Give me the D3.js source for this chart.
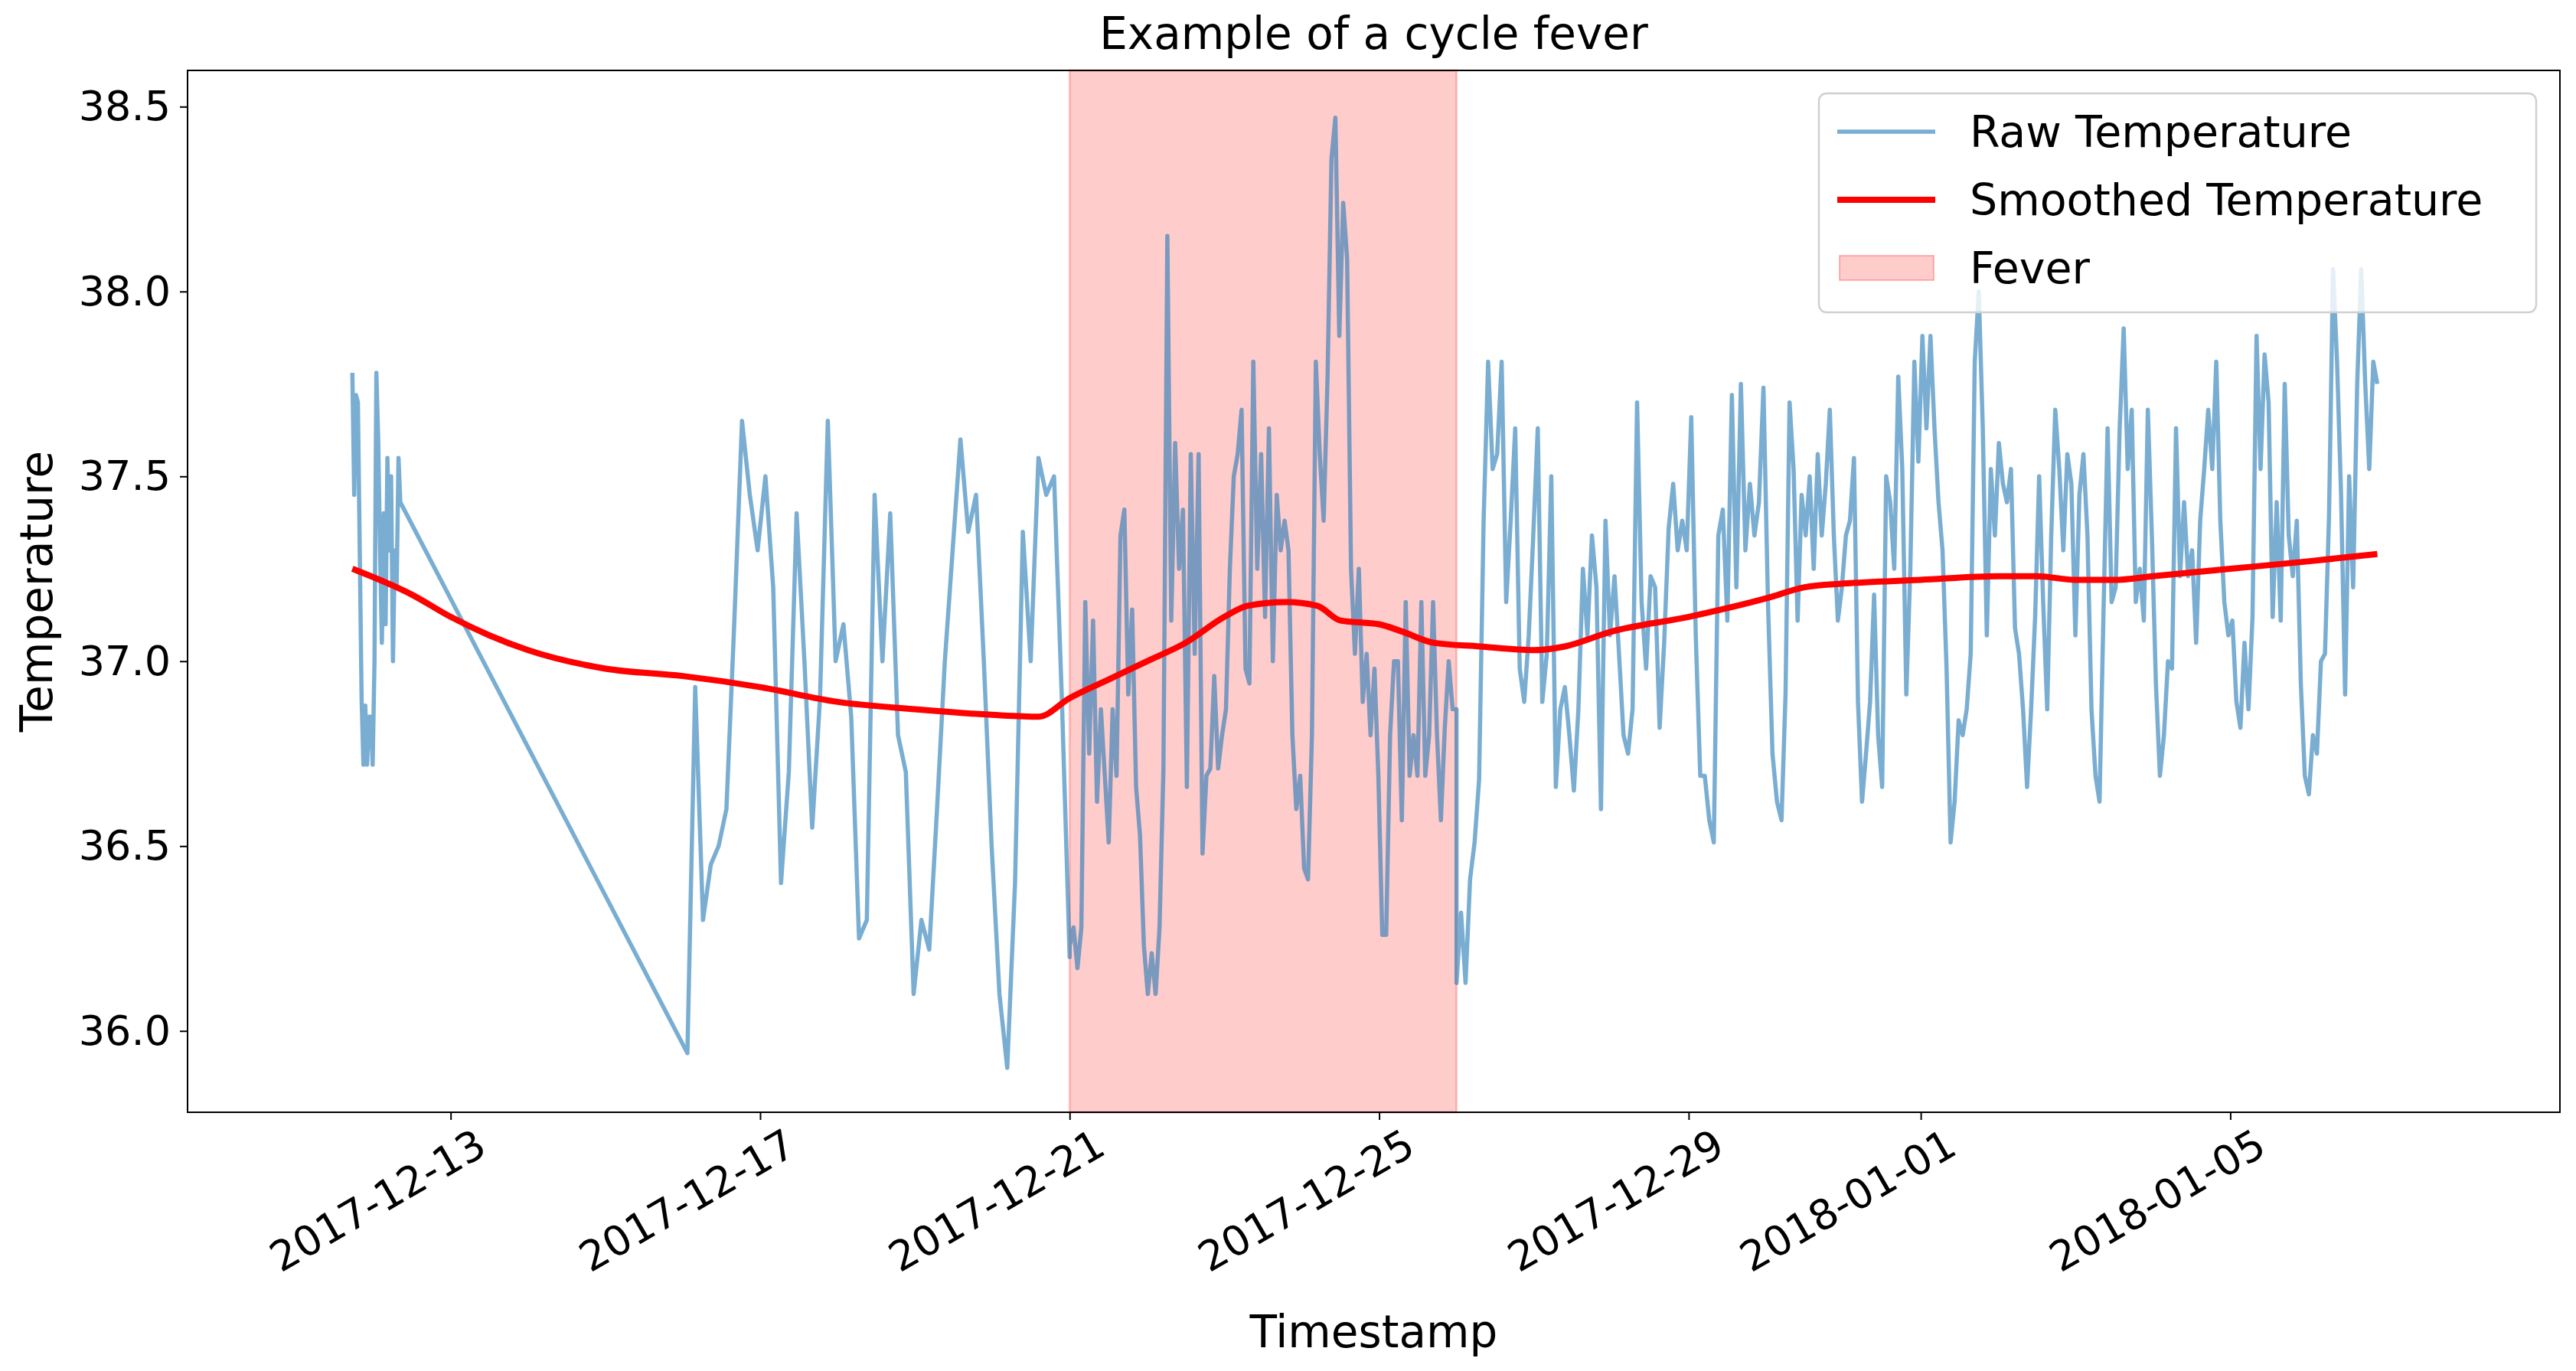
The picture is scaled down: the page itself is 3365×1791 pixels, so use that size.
<!DOCTYPE html>
<html>
<head>
<meta charset="utf-8">
<script src="https://cdn.jsdelivr.net/npm/d3@7"></script>
<style>
  body { margin: 0; background: #fff; }
  text { font-family: "DejaVu Sans", sans-serif; fill: #000; }
</style>
</head>
<body>
<svg id="chart" width="3365" height="1791"></svg>
<script>
// days are counted so that day d = 2017-12-d (day 32 = 2018-01-01)
var base = new Date(2017, 10, 30);

// raw readings, grouped in runs: [startDay, endDay, values]
var rawA = [11.73, 12.35, [37.78,37.45,37.72,37.7,37.3,36.9,36.72,36.88,36.72,36.85,36.85,36.72,37.0,37.78,37.6,37.3,37.05,37.4,37.1,37.55,37.3,37.5,37.0,37.3,37.2,37.55,37.43]];
var rawB = [16.06, 21.0, [35.94,36.93,36.3,36.45,36.5,36.6,37.1,37.65,37.45,37.3,
  37.5,37.2,36.4,36.7,37.4,37.0,36.55,36.9,37.65,37.0,
  37.1,36.85,36.25,36.3,37.45,37.0,37.4,36.8,36.7,36.1,
  36.3,36.22,36.6,37.0,37.3,37.6,37.35,37.45,37.0,36.5,
  36.1,35.9,36.4,37.35,37.0,37.55,37.45,37.5,36.9,36.2]];
var rawC = [21.0, 26.0, [36.23,36.28,36.17,36.28,37.16,36.75,37.11,36.62,36.87,36.69,36.51,36.87,36.69,37.34,37.41,36.91,37.14,36.66,36.53,36.23,
  36.1,36.21,36.1,36.28,36.71,38.15,37.11,37.59,37.25,37.41,36.66,37.56,37.02,37.56,36.48,36.69,36.71,36.96,36.71,36.8,
  36.87,37.25,37.5,37.56,37.68,36.98,36.94,37.81,37.25,37.56,37.12,37.63,37.0,37.45,37.3,37.38,37.3,36.8,36.6,36.69,36.44,
  36.41,36.8,37.81,37.56,37.38,37.77,38.36,38.47,37.88,38.24,38.09,37.25,37.02,37.25,36.89,37.02,36.8,36.98,36.69,36.26,
  36.26,36.8,37.0,37.0,36.57,37.16,36.69,36.8,36.69,37.16,36.69,36.8,37.16,36.8,36.57,36.82,37.0,36.87,36.87]];
var rawD = [26.0, 30.2, [36.13,36.32,36.13,36.41,36.51,36.68,37.38,37.81,37.52,37.56,37.81,37.16,37.38,37.63,36.98,36.89,37.07,37.34,37.63,36.89,
  37.02,37.5,36.66,36.87,36.93,36.8,36.65,36.87,37.25,37.07,37.34,37.2,36.6,37.38,37.07,37.23,37.02,36.8,36.75,36.87,
  37.7,37.16,36.98,37.23,37.2,36.82,37.05,37.36,37.48,37.3,37.38,37.3,37.66,37.07,36.69,36.69,36.57,36.51,37.34,37.41,
  37.11,37.72,37.2,37.75,37.3,37.48,37.34,37.43,37.74,37.16,36.75,36.62,36.57]];
var rawE = [30.2, 37.9, [36.57,36.91,37.7,37.52,37.11,37.45,37.34,37.5,37.25,37.56,37.34,37.48,37.68,37.34,37.11,37.2,37.34,37.38,37.55,
  36.89,36.62,36.75,36.89,37.18,36.8,36.66,37.5,37.43,37.25,37.77,37.52,36.91,37.25,37.81,37.54,37.88,37.63,37.88,37.63,37.43,37.3,36.98,36.51,
  36.62,36.84,36.8,36.87,37.02,37.81,38.0,37.63,37.07,37.52,37.34,37.59,37.48,37.43,37.52,37.09,37.02,36.87,36.66,36.87,37.12,37.5,37.16,36.87,37.34,37.68,
  37.52,37.3,37.56,37.48,37.07,37.45,37.56,37.34,36.87,36.69,36.62,37.14,37.63,37.16,37.2,37.63,37.9,37.52,37.68,37.16,37.25,37.11,37.68,37.34,36.94,36.69,36.8,37.0,36.98,37.63,
  37.23,37.43,37.23,37.3,37.05,37.38,37.52,37.68,37.52,37.81,37.38,37.16,37.07,37.11,36.89,36.82,37.05,36.87,37.12,37.88,37.52,37.83,37.7,37.12,37.43,37.11,37.75,
  37.34,37.23,37.38,36.94,36.69,36.64,36.8,36.75,37.0,37.02,37.39,38.06,37.81,37.45,36.91,37.5,37.2,37.75,38.06,37.75,37.52,37.81,37.75]];

// smoothed curve: [day, value]
var smoothDays = [11.73,12.5,13,13.5,14,15,16,17,18,19,20,20.6,21,21.5,22,22.5,23,23.3,23.8,24.2,24.5,25,25.3,25.7,26.3,27,27.4,28,29,30,30.5,31,32,33,33.5,34,34.5,35,36,37,37.9];
var smoothVals = [37.25,37.18,37.12,37.07,37.03,36.98,36.96,36.93,36.89,36.87,36.855,36.85,36.9,36.95,37.0,37.05,37.12,37.15,37.16,37.15,37.11,37.1,37.08,37.05,37.04,37.03,37.04,37.08,37.12,37.17,37.2,37.21,37.22,37.23,37.23,37.22,37.22,37.23,37.25,37.27,37.29];

var feverStart = 21.0, feverEnd = 26.0;
var tickDays = [13, 17, 21, 25, 29, 32, 36];
var yTicks = [36.0, 36.5, 37.0, 37.5, 38.0, 38.5];

function toDate(d) { return new Date(base.getTime() + d * 86400000); }

var raw = [];
[rawA, rawB, rawC, rawD, rawE].forEach(function (run) {
  var n = run[2].length;
  run[2].forEach(function (v, i) {
    raw.push({ t: toDate(run[0] + (run[1] - run[0]) * i / (n - 1)), v: v });
  });
});
var smooth = smoothDays.map(function (d, i) { return { t: toDate(d), v: smoothVals[i] }; });

var svg = d3.select('#chart');
var m = { left: 245, right: 3344, top: 92, bottom: 1453 };

var x = d3.scaleTime().domain([toDate(9.6), toDate(40.26)]).range([m.left, m.right]);
var y = d3.scaleLinear().domain([35.78, 38.598]).range([m.bottom, m.top]);

svg.append('defs').append('clipPath').attr('id', 'clip')
  .append('rect').attr('x', m.left).attr('y', m.top)
  .attr('width', m.right - m.left).attr('height', m.bottom - m.top);

// fever band
svg.append('rect')
  .attr('x', x(toDate(feverStart))).attr('y', m.top)
  .attr('width', x(toDate(feverEnd)) - x(toDate(feverStart)))
  .attr('height', m.bottom - m.top)
  .attr('fill', 'rgba(255,0,0,0.2)')
  .attr('stroke', 'rgba(255,0,0,0.2)').attr('stroke-width', 3);

var line = d3.line().x(function (d) { return x(d.t); }).y(function (d) { return y(d.v); });

svg.append('path').datum(raw).attr('d', line).attr('clip-path', 'url(#clip)')
  .attr('fill', 'none').attr('stroke', '#1f77b4').attr('stroke-opacity', 0.6)
  .attr('stroke-width', 5.5).attr('stroke-linejoin', 'round');

svg.append('path').datum(smooth).attr('d', line.curve(d3.curveMonotoneX))
  .attr('fill', 'none').attr('stroke', '#ff0000').attr('stroke-width', 8);

// axes
var xAxis = svg.append('g').attr('transform', 'translate(0,' + m.bottom + ')')
  .call(d3.axisBottom(x).tickValues(tickDays.map(toDate)).tickFormat(d3.timeFormat('%Y-%m-%d'))
    .tickSizeInner(10).tickSizeOuter(0).tickPadding(12));
xAxis.selectAll('text').style('font-size', '54px')
  .attr('text-anchor', 'end').attr('dx', '0.3em').attr('dy', '0.9em')
  .attr('transform', 'rotate(-30)');

var yAxis = svg.append('g').attr('transform', 'translate(' + m.left + ',0)')
  .call(d3.axisLeft(y).tickValues(yTicks).tickFormat(d3.format('.1f'))
    .tickSizeInner(10).tickSizeOuter(0).tickPadding(12));
yAxis.selectAll('text').style('font-size', '54px');

[xAxis, yAxis].forEach(function (a) {
  a.select('.domain').remove();
  a.selectAll('line').attr('stroke', '#000').attr('stroke-width', 2);
});

svg.append('rect').attr('x', m.left).attr('y', m.top)
  .attr('width', m.right - m.left).attr('height', m.bottom - m.top)
  .attr('fill', 'none').attr('stroke', '#000').attr('stroke-width', 2);

svg.append('text').attr('x', (m.left + m.right) / 2).attr('y', 64)
  .attr('text-anchor', 'middle').style('font-size', '58px').text('Example of a cycle fever');
svg.append('text').attr('x', (m.left + m.right) / 2).attr('y', 1760)
  .attr('text-anchor', 'middle').style('font-size', '58px').text('Timestamp');
svg.append('text').attr('transform', 'translate(68,' + (m.top + m.bottom) / 2 + ') rotate(-90)')
  .attr('text-anchor', 'middle').style('font-size', '58px').text('Temperature');

// legend
var lg = svg.append('g');
lg.append('rect').attr('x', 2376).attr('y', 122).attr('width', 937).attr('height', 286)
  .attr('rx', 10).attr('fill', 'rgba(255,255,255,0.8)').attr('stroke', '#d0d0d0').attr('stroke-width', 2.5);
var items = [
  { label: 'Raw Temperature', kind: 'raw' },
  { label: 'Smoothed Temperature', kind: 'smooth' },
  { label: 'Fever', kind: 'fever' }
];
items.forEach(function (it, i) {
  var cy = 172 + i * 89;
  if (it.kind === 'fever') {
    lg.append('rect').attr('x', 2403).attr('y', cy - 16).attr('width', 123).attr('height', 32)
      .attr('fill', 'rgba(255,0,0,0.2)').attr('stroke', 'rgba(255,0,0,0.25)').attr('stroke-width', 2);
  } else {
    lg.append('line').attr('x1', 2400).attr('x2', 2528).attr('y1', cy).attr('y2', cy)
      .attr('stroke', it.kind === 'raw' ? '#1f77b4' : '#ff0000')
      .attr('stroke-opacity', it.kind === 'raw' ? 0.6 : 1)
      .attr('stroke-width', it.kind === 'raw' ? 5.5 : 8);
  }
  lg.append('text').attr('x', 2573).attr('y', cy + 20).style('font-size', '57px').text(it.label);
});
</script>
</body>
</html>
